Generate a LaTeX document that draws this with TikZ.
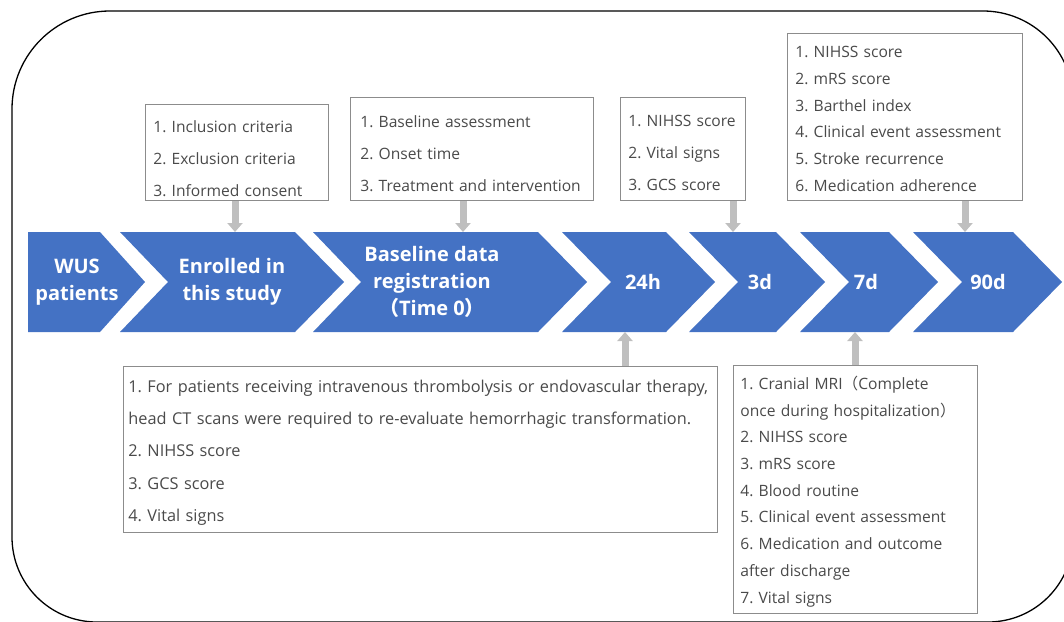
\documentclass[tikz,border=0pt]{standalone}
\usepackage{fontspec}
\setmainfont{Open Sans}
\newfontfamily\cjk{Noto Sans CJK SC}
\frenchspacing
\usetikzlibrary{arrows.meta}
\definecolor{chev}{HTML}{4472C4}
\definecolor{boxline}{HTML}{8C8C8C}
\definecolor{txt}{HTML}{4A4A4A}
\definecolor{arr}{HTML}{BFBFBF}
\newcommand{\topgap}[1]{\rule{0pt}{#1pt}}
\begin{document}
\begin{tikzpicture}[x=1pt,y=-1pt,
  chevron/.style={fill=chev, draw=none},
  chevtext/.style={text=white, font=\fontsize{20}{27}\selectfont\bfseries, align=center, inner sep=0pt},
  infobox/.style={draw=boxline, line width=0.8pt, fill=white, anchor=north west, align=left,
    inner xsep=8pt, inner ysep=0pt, text=txt, font=\fontsize{15.6}{32}\selectfont},
  tightbox/.style={infobox, font=\fontsize{15.6}{26.7}\selectfont},
  garrow/.style={draw=arr, line width=7pt, -{Triangle[length=9pt,width=15pt]}},
  frame/.style={draw=black, line width=1.3pt}]
\useasboundingbox (0,0) rectangle (1064,621);
\clip (0,0) rectangle (1064,621);
% outer frame
\draw[frame] (12,300) -- (12,109) arc[start angle=180, end angle=270, radius=98]
  -- (983,11) arc[start angle=270, end angle=360, radius=90]
  -- (1073,537) arc[start angle=0, end angle=90, radius=85]
  -- (97,622) arc[start angle=90, end angle=180, radius=85] -- cycle;
% chevrons
\fill[chevron] (28,232) -- (100,232) -- (145,282) -- (100,332) -- (28,332) -- cycle;
\fill[chevron] (120,232) -- (295,232) -- (344,282) -- (295,332) -- (120,332) -- (168,282) -- cycle;
\fill[chevron] (313,232) -- (538,232) -- (587,282) -- (538,332) -- (313,332) -- (361,282) -- cycle;
\fill[chevron] (562,232) -- (666,232) -- (715,282) -- (666,332) -- (562,332) -- (611,282) -- cycle;
\fill[chevron] (689,232) -- (776,232) -- (825,282) -- (776,332) -- (689,332) -- (738,282) -- cycle;
\fill[chevron] (800,232) -- (889,232) -- (938,282) -- (889,332) -- (800,332) -- (849,282) -- cycle;
\fill[chevron] (913,232) -- (1013,232) -- (1062,282) -- (1013,332) -- (913,332) -- (962,282) -- cycle;
\node[chevtext] (t1) at (77,282) {WUS\\patients};
\node[chevtext] (t2) at (232,282) {Enrolled in\\this study};
\node[chevtext] (t3) at (432,282) {Baseline data\\registration\\{\cjk （}Time 0{\cjk ）}};
\node[chevtext] (t4) at (643,282) {24h};
\node[chevtext] (t5) at (760,282) {3d};
\node[chevtext] (t6) at (866,282) {7d};
\node[chevtext] (t7) at (988,282) {90d};
% arrow end points on chevron edges
\coordinate (aA) at (235,232);
\coordinate (aB) at (463,232);
\coordinate (aC) at (733,232);
\coordinate (aD) at (965,232);
\coordinate (aE) at (625,332);
\coordinate (aF) at (855,332);
% boxes
\node[infobox, text width=167pt, minimum height=96pt] (A) at (145,104)
  {\topgap{25.4}1. Inclusion criteria\\2. Exclusion criteria\\3. Informed consent};
\node[infobox, inner xsep=10pt, text width=223pt, minimum height=103pt] (B) at (350,97)
  {\topgap{21.4}1. Baseline assessment\\2. Onset time\\3. Treatment and intervention};
\node[infobox, text width=109pt, minimum height=103pt] (C) at (620,97)
  {\topgap{19.4}1. NIHSS score\\2. Vital signs\\3. GCS score};
\node[tightbox, text width=219pt, minimum height=167pt] (D) at (787,33)
  {\topgap{15.4}1. NIHSS score\\2. mRS score\\3. Barthel index\\4. Clinical event assessment\\5. Stroke recurrence\\6. Medication adherence};
\node[infobox, inner xsep=5pt, text width=584pt, minimum height=166pt, font=\fontsize{16.3}{32.3}\selectfont] (E) at (123,366)
  {\topgap{18.6}\mbox{1. For patients receiving intravenous thrombolysis or endovascular therapy,}\\
   \mbox{head CT scans were required to re-evaluate hemorrhagic transformation.}\\
   2. NIHSS score\\3. GCS score\\4. Vital signs};
\node[tightbox, inner xsep=7pt, text width=230pt, minimum height=248pt] (F) at (733,365)
  {\topgap{17.4}1. Cranial MRI{\cjk （}Complete\\once during hospitalization{\cjk ）}\\2. NIHSS score\\3. mRS score\\4. Blood routine\\5. Clinical event assessment\\6. Medication and outcome\\after discharge\\7. Vital signs};
% connectors
\draw[garrow] (A.south -| aA) -- (aA);
\draw[garrow] (B.south -| aB) -- (aB);
\draw[garrow] (C.south -| aC) -- (aC);
\draw[garrow] (D.south -| aD) -- (aD);
\draw[garrow] (E.north -| aE) -- (aE);
\draw[garrow] (F.north -| aF) -- (aF);
\end{tikzpicture}
\end{document}
